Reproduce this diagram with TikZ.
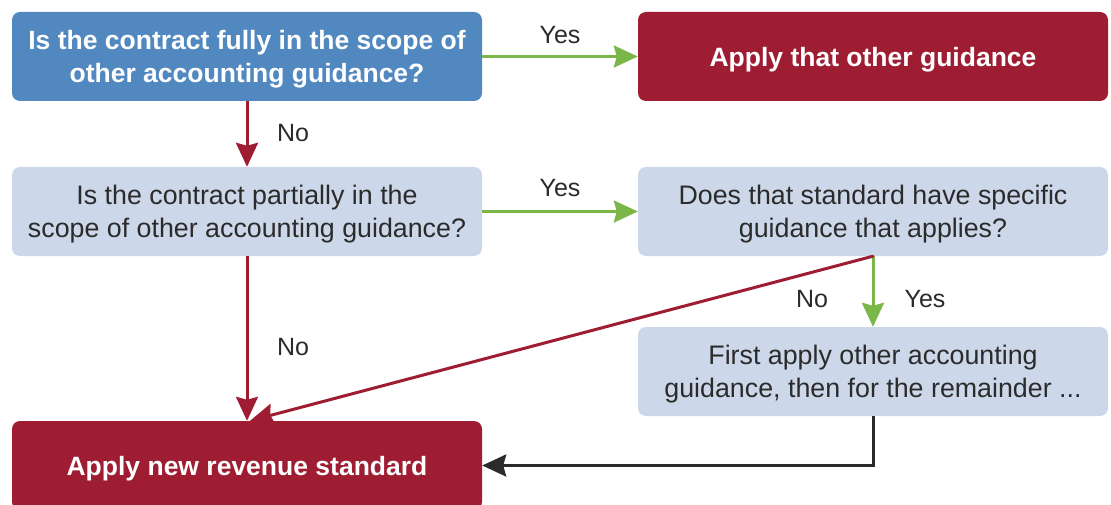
\documentclass[tikz,border=0pt]{standalone}
\usepackage{fontspec}
\setmainfont{Liberation Sans}
\usetikzlibrary{arrows.meta,calc}
\definecolor{kblue}{HTML}{5288C0}
\definecolor{kred}{HTML}{9E1D32}
\definecolor{klight}{HTML}{CCD8EA}
\definecolor{kgreen}{HTML}{7AB648}
\definecolor{ktext}{HTML}{2B2B2B}
\begin{document}
\begin{tikzpicture}[x=1pt,y=-1pt,
  box/.style={rounded corners=8pt, minimum width=470pt, minimum height=89pt, align=center, inner sep=0pt,
    font=\fontsize{26.8}{32.5}\selectfont},
  oneline/.style={text height=25.5pt},
  twoline/.style={text height=57.5pt},
  darkbox/.style={box, fill=kblue, text=white, font=\fontsize{26.5}{32.5}\selectfont\bfseries},
  redbox/.style={box, fill=kred, text=white, font=\fontsize{26.5}{32.5}\selectfont\bfseries},
  lightbox/.style={box, fill=klight, text=ktext},
  lbl/.style={text=ktext, font=\fontsize{25}{30}\selectfont, inner sep=0pt},
  tip/.style={-{Stealth[length=24pt,width=22pt,inset=3pt]}},
  garrow/.style={draw=kgreen, line width=3pt, tip, kgreen},
  rarrow/.style={draw=kred, line width=3pt, tip, kred},
  barrow/.style={draw=ktext, line width=3pt, tip, ktext}
]
\useasboundingbox (0,0) rectangle (1111,505);
\clip (0,0) rectangle (1111,505);
\node[darkbox, twoline] (b1) at (247,56.5) {Is the contract fully in the scope of\\other accounting guidance?};
\node[redbox, oneline] (b2) at (873,56.5) {Apply that other guidance};
\node[lightbox, twoline] (b3) at (247,211.5) {Is the contract partially in the\\scope of other accounting guidance?};
\node[lightbox, twoline] (b4) at (873,211.5) {Does that standard have specific\\guidance that applies?};
\node[lightbox, twoline] (b5) at (873,371.5) {First apply other accounting\\guidance, then for the remainder ...};
\node[redbox, oneline] (b6) at (247,465.5) {Apply new revenue standard};

\draw[garrow] (b1.east) -- (b2.west);
\draw[rarrow] (b1.south) -- (b3.north);
\draw[garrow] (b3.east) -- (b4.west);
\draw[rarrow] (b3.south) -- (b6.north);
\draw[garrow] (b4.south) -- (b5.north);
\draw[rarrow, line cap=round] (b4.south) -- ($(b6.north)+(3,0)$);
\draw[barrow] (b5.south) |- (b6.east);

\node[lbl] (l1) at (560,35) {Yes};
\node[lbl] (l2) at (293,133) {No};
\node[lbl] (l3) at (560,188) {Yes};
\node[lbl] (l4) at (293,347) {No};
\node[lbl] (l5) at (812,299) {No};
\node[lbl] (l6) at (925,299) {Yes};
\end{tikzpicture}
\end{document}
